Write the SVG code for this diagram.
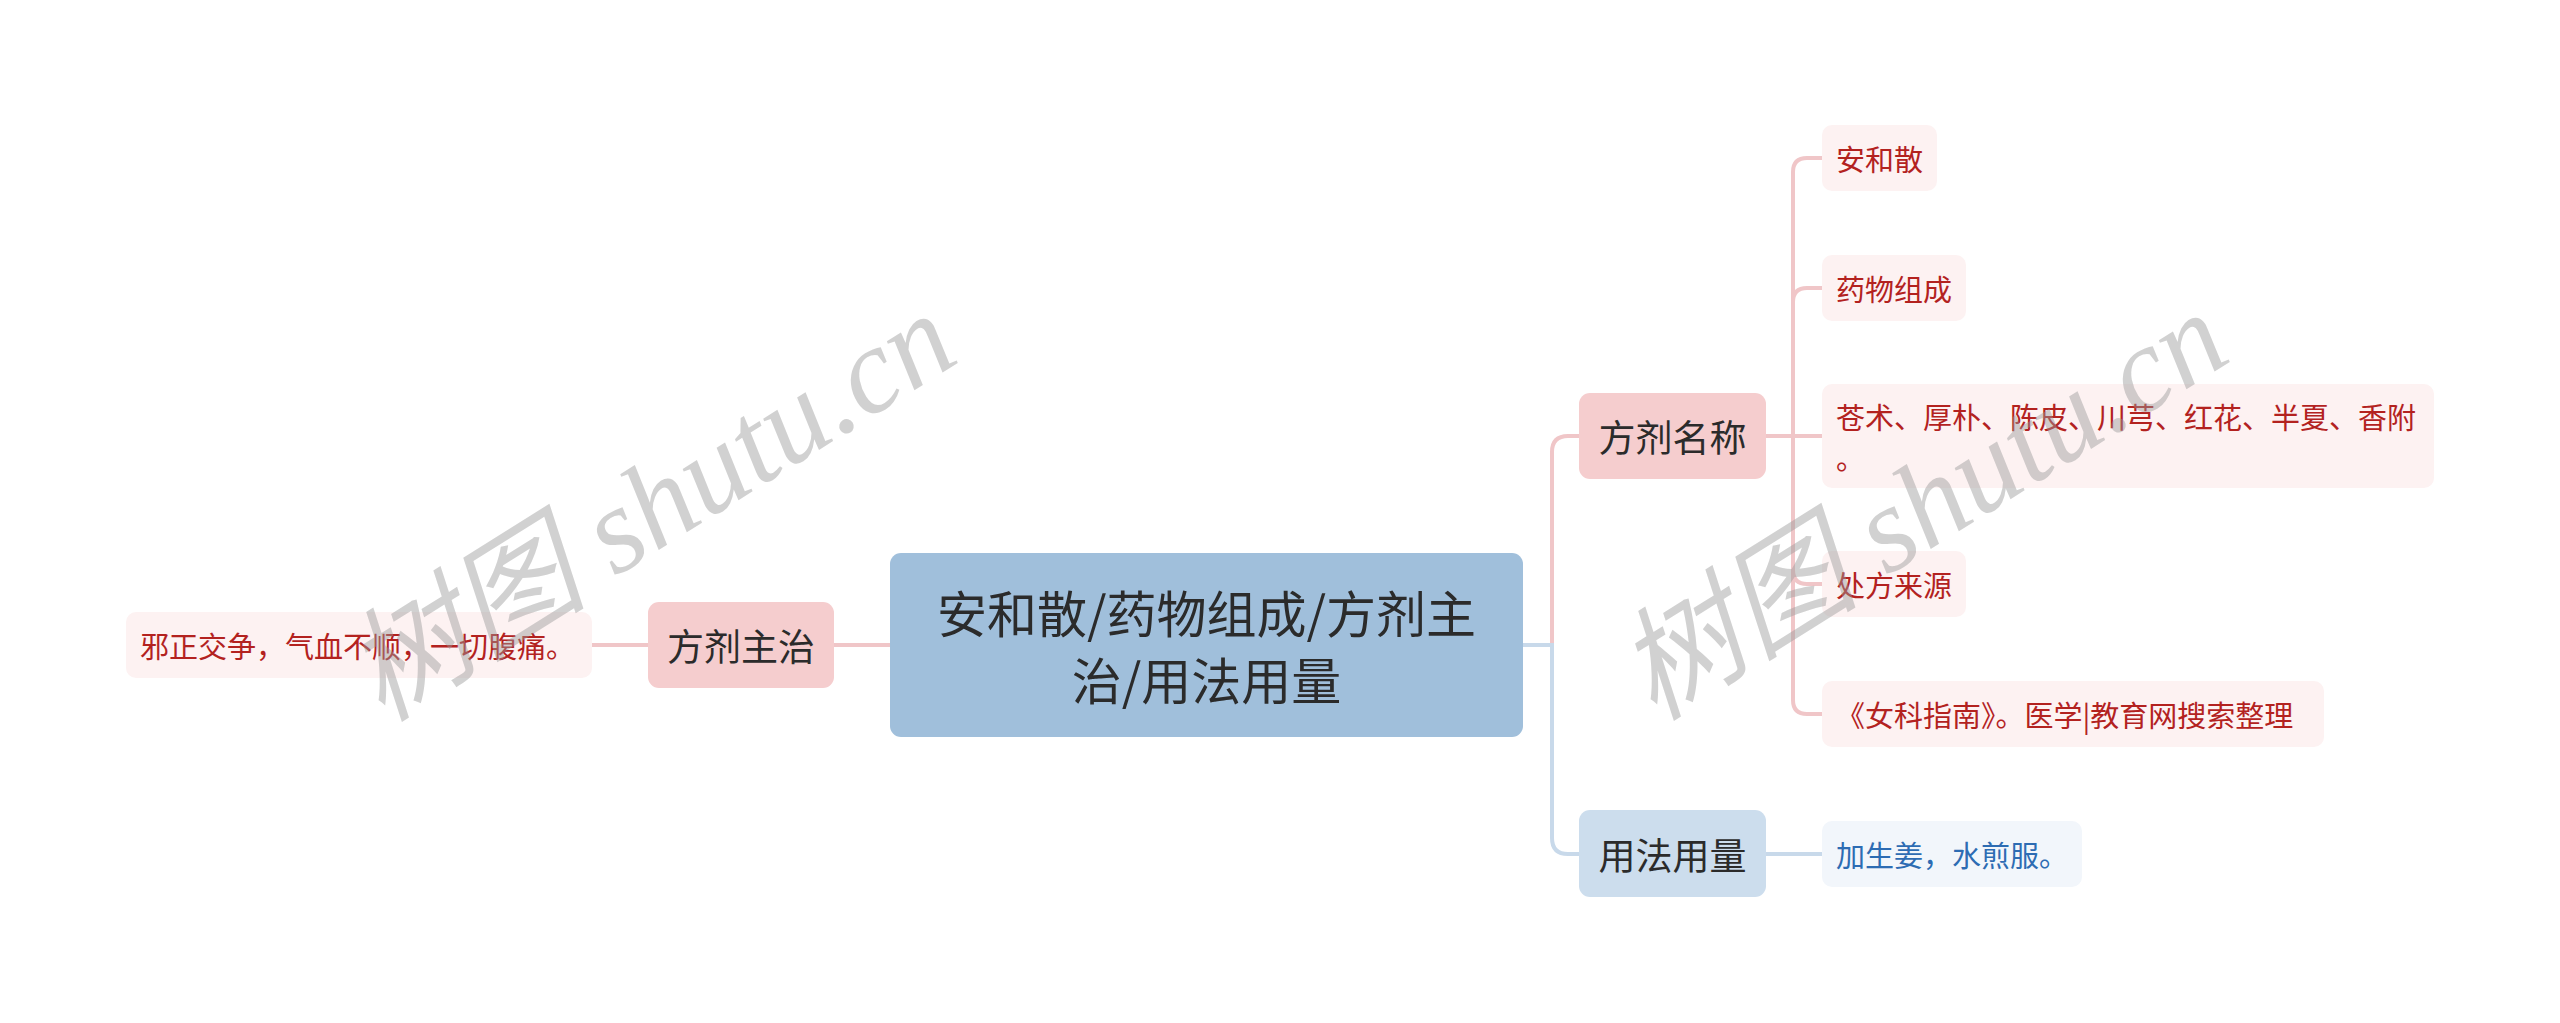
<svg xmlns="http://www.w3.org/2000/svg" width="2560" height="1023" viewBox="0 0 2560 1023">
<style>
  .t { font-family: "Noto Sans CJK SC", "Noto Sans", sans-serif; }
  .center-box { fill: #a0bfdb; }
  .pink-box { fill: #f5cdce; }
  .blue-box { fill: #ccdded; }
  .pink-leaf { fill: #fdf2f2; }
  .blue-leaf { fill: #f2f6fb; }
  .main-text { fill: #2b2b2b; font-size: 37px; }
  .center-text { fill: #2b2b2b; font-size: 50px; }
  .red-text { fill: #b3221f; font-size: 29px; }
  .blue-text { fill: #2d6cb3; font-size: 29px; }
  .pink-line { fill: none; stroke: #f0c6c8; stroke-width: 4; }
  .blue-line { fill: none; stroke: #c8d9ea; stroke-width: 4; }
  .wm { font-family: "Liberation Serif", "Noto Sans CJK SC", serif; font-style: italic; font-size: 122px; fill: #9a9a9a; fill-opacity: 0.45; }
</style>
<rect x="0" y="0" width="2560" height="1023" fill="#ffffff"/>
<g id="connectors">
  <path class="pink-line" d="M890,645 H834"/>
  <path class="pink-line" d="M648,645 H592"/>
  <path class="pink-line" d="M1523,645 H1552 V452 Q1552,436 1568,436 H1579"/>
  <path class="blue-line" d="M1523,645 H1552 V838 Q1552,854 1568,854 H1579"/>
  <path class="pink-line" d="M1766,436 H1793 V172 Q1793,158 1807,158 H1822"/>
  <path class="pink-line" d="M1766,436 H1793 V302 Q1793,288 1807,288 H1822"/>
  <path class="pink-line" d="M1766,436 H1822"/>
  <path class="pink-line" d="M1766,436 H1793 V570 Q1793,584 1807,584 H1822"/>
  <path class="pink-line" d="M1766,436 H1793 V700 Q1793,714 1807,714 H1822"/>
  <path class="blue-line" d="M1766,854 H1822"/>
</g>
<g id="node-center">
  <rect class="center-box" x="890" y="553" width="633" height="184" rx="11"/>
  <text class="t center-text" x="1206.5" y="611" text-anchor="middle" dominant-baseline="central">安和散/药物组成/方剂主</text>
  <text class="t center-text" x="1206.5" y="678" text-anchor="middle" dominant-baseline="central">治/用法用量</text>
</g>
<g id="node-fangjizhuzhi">
  <rect class="pink-box" x="648" y="602" width="186" height="86" rx="11"/>
  <text class="t main-text" x="741" y="645" text-anchor="middle" dominant-baseline="central">方剂主治</text>
</g>
<g id="leaf-xiezheng">
  <rect class="pink-leaf" x="126" y="612" width="466" height="66" rx="10"/>
  <text class="t red-text" x="140" y="645" dominant-baseline="central">邪正交争，气血不顺，一切腹痛。</text>
</g>
<g id="node-fangjimingcheng">
  <rect class="pink-box" x="1579" y="393" width="187" height="86" rx="11"/>
  <text class="t main-text" x="1672.5" y="436" text-anchor="middle" dominant-baseline="central">方剂名称</text>
</g>
<g id="node-yongfa">
  <rect class="blue-box" x="1579" y="810" width="187" height="87" rx="11"/>
  <text class="t main-text" x="1672.5" y="853.5" text-anchor="middle" dominant-baseline="central">用法用量</text>
</g>
<g id="leaf-anhesan">
  <rect class="pink-leaf" x="1822" y="125" width="115" height="66" rx="10"/>
  <text class="t red-text" x="1836" y="158" dominant-baseline="central">安和散</text>
</g>
<g id="leaf-yaowu">
  <rect class="pink-leaf" x="1822" y="255" width="144" height="66" rx="10"/>
  <text class="t red-text" x="1836" y="288" dominant-baseline="central">药物组成</text>
</g>
<g id="leaf-cangzhu">
  <rect class="pink-leaf" x="1822" y="384" width="612" height="104" rx="10"/>
  <text class="t red-text" x="1836" y="416" dominant-baseline="central">苍术、厚朴、陈皮、川芎、红花、半夏、香附</text>
  <text class="t red-text" x="1836" y="457" dominant-baseline="central">。</text>
</g>
<g id="leaf-chufang">
  <rect class="pink-leaf" x="1822" y="551" width="144" height="66" rx="10"/>
  <text class="t red-text" x="1836" y="584" dominant-baseline="central">处方来源</text>
</g>
<g id="leaf-nvke">
  <rect class="pink-leaf" x="1822" y="681" width="502" height="66" rx="10"/>
  <text class="t red-text" x="1836" y="714" dominant-baseline="central">《女科指南》。医学|教育网搜索整理</text>
</g>
<g id="leaf-jiashengjiang">
  <rect class="blue-leaf" x="1822" y="821" width="260" height="66" rx="10"/>
  <text class="t blue-text" x="1836" y="854" dominant-baseline="central">加生姜，水煎服。</text>
</g>
<g id="watermarks">
  <text class="wm" transform="translate(650,506) rotate(-32)" x="0" y="42" text-anchor="middle">树图 shutu.cn</text>
  <text class="wm" transform="translate(1922,505) rotate(-32)" x="0" y="42" text-anchor="middle">树图 shutu.cn</text>
</g>
</svg>
